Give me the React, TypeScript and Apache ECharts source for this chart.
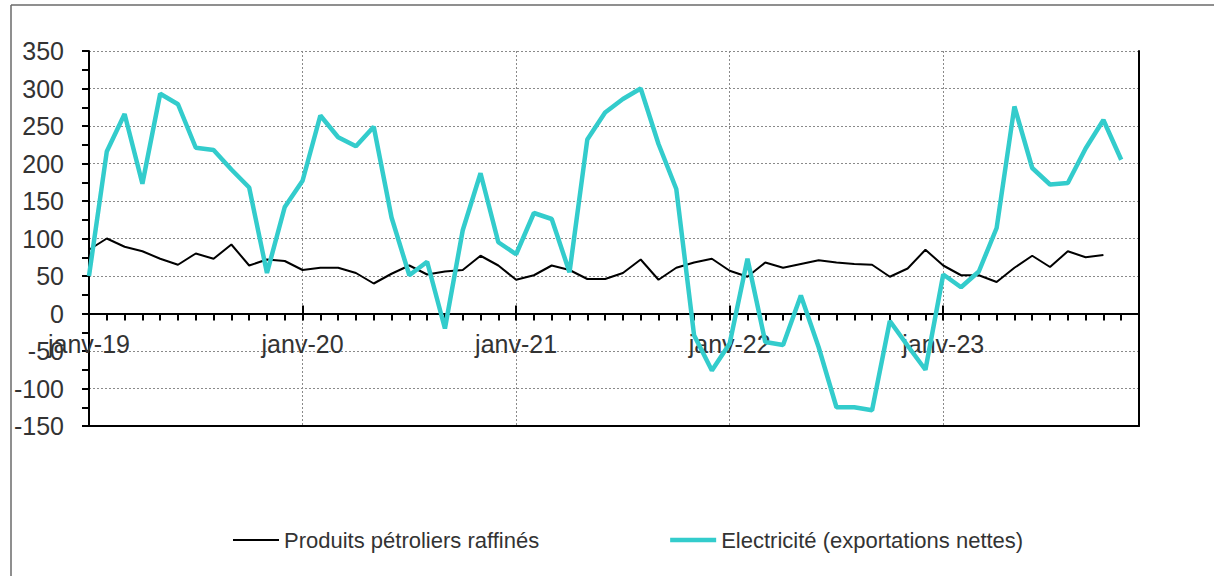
import React, { useEffect, useRef } from "react";
import * as echarts from "echarts";

const monthNames = ["janv", "févr", "mars", "avr", "mai", "juin", "juil", "août", "sept", "oct", "nov", "déc"];
const years = ["19", "20", "21", "22", "23"];

const petrole = [
  85, 100, 89, 83, 73, 65, 80, 73, 92, 64, 72, 70,
  58, 61, 61, 54, 40, 53, 64, 52, 56, 58, 77, 64,
  45, 51, 64, 58, 46, 46, 54, 72, 45, 61, 68, 73,
  57, 49, 68, 61, 66, 71, 68, 66, 65, 49, 60, 85,
  64, 51, 51, 42, 61, 77, 62, 83, 75, 78,
];

const electricite = [
  50, 216, 266, 173, 293, 279, 221, 218, 192, 168, 54, 142,
  177, 264, 235, 223, 249, 128, 51, 69, -20, 111, 187, 95,
  79, 134, 126, 55, 232, 268, 286, 300, 226, 166, -29, -76,
  -40, 73, -38, -42, 24, -45, -125, -125, -129, -10, -43, -75,
  52, 35, 56, 114, 276, 194, 172, 174, 220, 258, 205,
];

const yTicks = { min: -150, max: 350, interval: 50 };

const seriesNames = ["Produits pétroliers raffinés", "Electricité (exportations nettes)"];

export default function App() {
  const ref = useRef<HTMLDivElement>(null);
  useEffect(() => {
    if (!ref.current) return;
    const chart = echarts.init(ref.current, undefined, { renderer: "svg" });
    const categories: string[] = [];
    years.forEach((y) => monthNames.forEach((m) => categories.push(`${m}-${y}`)));
    const font = "'Liberation Sans', Arial, sans-serif";
    const textColor = "#333";
    const gridTop = 51;
    const gridBottomPx = 426;
    const zeroY = gridTop + ((gridBottomPx - gridTop) * yTicks.max) / (yTicks.max - yTicks.min);
    const gridLine = { show: true, lineStyle: { color: "#8a8a8a", type: [2, 2] as any, width: 1 } };
    chart.setOption({
      animation: false,
      backgroundColor: "#fff",
      grid: { left: 89, right: 75, top: gridTop, bottom: 576 - gridBottomPx },
      xAxis: [
        {
          type: "category",
          data: categories,
          boundaryGap: false,
          axisLine: { show: true, onZero: true, lineStyle: { color: "#000", width: 2 } },
          axisTick: { show: true, interval: 0, length: 7, lineStyle: { color: "#000", width: 2 } },
          axisLabel: { show: false },
          splitLine: {
            show: true,
            interval: (i: number) => i % 12 === 0 && i > 0,
            lineStyle: { color: "#8a8a8a", type: [2, 2] as any, width: 1 },
          },
        },
        {
          type: "category",
          data: categories,
          boundaryGap: false,
          position: "bottom",
          axisLine: { show: true, onZero: false, lineStyle: { color: "#000", width: 2 } },
          axisTick: { show: false },
          axisLabel: { show: false },
          splitLine: { show: false },
        },
        {
          type: "category",
          data: categories,
          boundaryGap: false,
          position: "bottom",
          axisLine: { show: false, onZero: true, onZeroAxisIndex: 0 },
          axisTick: { show: true, inside: true, interval: 11, length: 8, lineStyle: { color: "#000", width: 2 } },
          axisLabel: { show: false },
          splitLine: { show: false },
        },
        {
          type: "category",
          data: categories,
          boundaryGap: false,
          position: "bottom",
          offset: -(gridBottomPx - zeroY),
          axisLine: { show: false, onZero: false },
          axisTick: { show: false },
          axisLabel: {
            interval: 11,
            fontSize: 25,
            color: textColor,
            fontFamily: font,
            margin: 18,
          },
          splitLine: { show: false },
        },
      ],
      yAxis: [
        {
          type: "value",
          min: yTicks.min,
          max: yTicks.max,
          interval: yTicks.interval,
          axisLine: { show: true, lineStyle: { color: "#000", width: 2 } },
          axisTick: { show: true, length: 7, lineStyle: { color: "#000", width: 2 } },
          minorTick: { show: true, splitNumber: 2, length: 7, lineStyle: { color: "#000", width: 2 } },
          axisLabel: { fontSize: 25, color: textColor, fontFamily: font, margin: 25 },
          splitLine: gridLine,
        },
        {
          type: "value",
          position: "right",
          min: yTicks.min,
          max: yTicks.max,
          interval: yTicks.interval,
          axisLine: { show: true, lineStyle: { color: "#000", width: 2 } },
          axisTick: { show: false },
          axisLabel: { show: false },
          splitLine: { show: false },
        },
      ],
      legend: {
        left: 228,
        top: 524,
        itemWidth: 46,
        itemHeight: 14,
        itemGap: 131,
        symbolKeepAspect: true,
        textStyle: { fontSize: 22, color: textColor, fontFamily: font },
        data: [
          { name: seriesNames[0], icon: "path://M0 0H100V4.5H0Z" },
          { name: seriesNames[1], icon: "path://M0 0H100V10H0Z" },
        ],
      },
      series: [
        {
          name: seriesNames[0],
          type: "line",
          data: petrole,
          symbol: "none",
          lineStyle: { color: "#000", width: 2 },
          itemStyle: { color: "#000" },
        },
        {
          name: seriesNames[1],
          type: "line",
          data: electricite,
          symbol: "none",
          lineStyle: { color: "#33CCCC", width: 4.5 },
          itemStyle: { color: "#33CCCC" },
        },
      ],
      graphic: [
        { type: "line", shape: { x1: 11, y1: 5, x2: 11, y2: 576 }, style: { stroke: "#6a6a6a", lineWidth: 1.5 } },
        { type: "line", shape: { x1: 11, y1: 5, x2: 1214, y2: 5 }, style: { stroke: "#6a6a6a", lineWidth: 1.5 } },
      ],
    });
    return () => chart.dispose();
  }, []);
  return (
    <div
      ref={ref}
      style={{ position: "absolute", left: 0, top: 0, width: 1214, height: 576 }}
    />
  );
}
